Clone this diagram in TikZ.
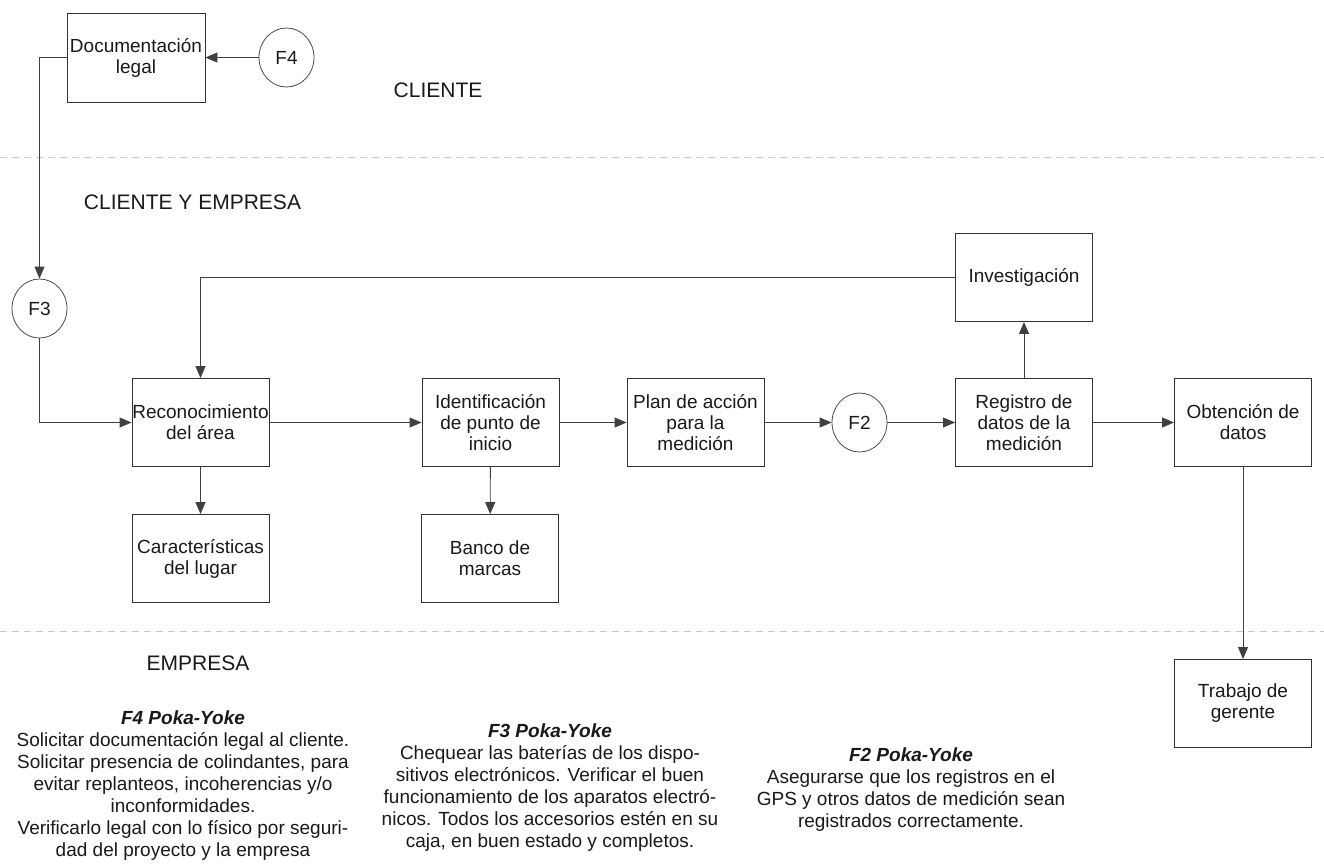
\documentclass[tikz,border=0pt]{standalone}
\usepackage{fontspec}
\setmainfont{Liberation Sans}
\usetikzlibrary{arrows.meta,shapes.geometric}
\begin{document}
\begin{tikzpicture}[x=1pt,y=-1pt,
  box/.style={draw=black!80,line width=0.9pt,minimum width=137pt,minimum height=88pt,inner sep=0pt,align=center,font=\fontsize{19}{21}\selectfont,text=black!90},
  circ/.style={draw=black!70,line width=0.8pt,ellipse,minimum width=55pt,minimum height=59pt,inner sep=0pt,font=\fontsize{19}{21}\selectfont,text=black!90},
  arr/.style={draw=black!75,line width=0.9pt,-{Triangle[length=12pt,width=10pt]}},
  lane/.style={font=\fontsize{21}{24}\selectfont,text=black!90},
  note/.style={align=center,font=\fontsize{19}{22}\selectfont,text=black!90},
  divider/.style={draw=black!22,line width=0.8pt,dash pattern=on 7pt off 5pt}]
\useasboundingbox (0,0) rectangle (1324,865);

% dividers
\draw[divider] (0,157) -- (1324,157);
\draw[divider] (0,631) -- (1324,631);

% lane labels
\node[lane] (lcli) at (438,90) {CLIENTE};
\node[lane] (lce) at (192.5,202) {CLIENTE Y EMPRESA};
\node[lane] (lemp) at (198,663) {EMPRESA};

% nodes
\node[box,minimum width=138pt,minimum height=89pt] (doc) at (136,57.5) {Documentación\\legal};
\node[circ] (f4) at (286.5,57.5) {F4};
\node[circ] (f3) at (39.5,308.5) {F3};
\node[box] (reco) at (200.5,422.5) {Reconocimiento\\del área};
\node[box] (iden) at (490.5,422.5) {Identificación\\de punto de\\inicio};
\node[box] (plan) at (695.5,422.5) {Plan de acción\\para la\\medición};
\node[circ] (f2) at (859.5,422.5) {F2};
\node[box] (reg) at (1024,422.5) {Registro de\\datos de la\\medición};
\node[box] (inv) at (1024,277.5) {Investigación};
\node[box] (obt) at (1243,422.5) {Obtención de\\datos};
\node[box] (car) at (200.5,558.5) {Características\\del lugar};
\node[box] (banco) at (490,558.5) {Banco de\\marcas};
\node[box] (trab) at (1243,703.5) {Trabajo de\\gerente};

% connectors
\draw[arr] (f4) -- (doc);
\draw[arr] (doc.west) -| (f3.north);
\draw[arr] (f3.south) |- (reco.west);
\draw[arr] (reco) -- (iden);
\draw[arr] (iden) -- (plan);
\draw[arr] (plan) -- (f2);
\draw[arr] (f2) -- (reg);
\draw[arr] (reg) -- (obt);
\draw[arr] (reco) -- (car);
\draw[arr] (iden) -- (banco);
\draw[arr] (reg) -- (inv);
\draw[arr] (inv.west) -| (reco.north);
\draw[arr] (obt) -- (trab);

% notes
\node[note] (n4) at (183,786) {{\bfseries\itshape F4 Poka-Yoke}\\Solicitar documentación legal al cliente.\\Solicitar presencia de colindantes, para\\evitar replanteos, incoherencias y/o\\inconformidades.\\Verificarlo legal con lo físico por seguri-\\dad del proyecto y la empresa};
\node[note] (n3) at (550,788) {{\bfseries\itshape F3 Poka-Yoke}\\Chequear las baterías de los dispo-\\sitivos electrónicos. Verificar el buen\\funcionamiento de los aparatos electró-\\nicos. Todos los accesorios estén en su\\caja, en buen estado y completos.};
\node[note] (n2) at (911,790) {{\bfseries\itshape F2 Poka-Yoke}\\Asegurarse que los registros en el\\GPS y otros datos de medición sean\\registrados correctamente.};
\end{tikzpicture}
\end{document}
